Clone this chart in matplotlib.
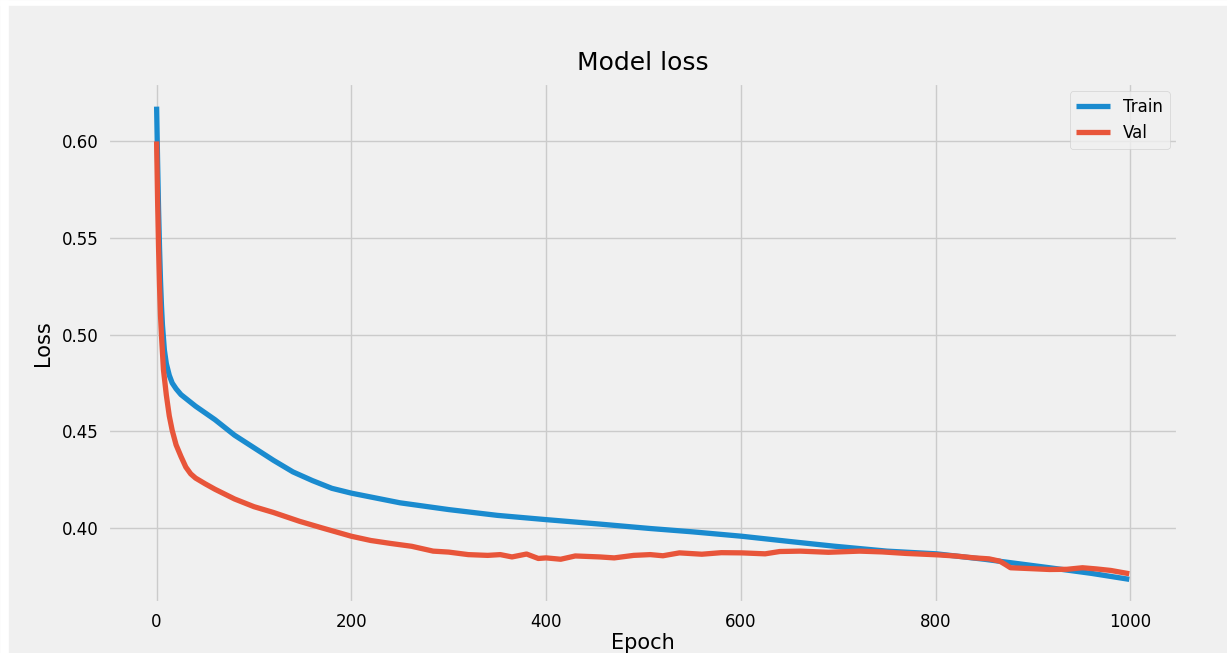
import matplotlib
matplotlib.use('Agg')
import matplotlib.pyplot as plt
from matplotlib.patches import Rectangle

plt.style.use('fivethirtyeight')

# values
epochs_train = [0, 1, 2, 3, 4, 5, 6, 8, 10, 13, 16, 20, 25, 30, 40, 50, 60, 70,
                80, 100, 120, 140, 160, 180, 200, 250, 300, 350, 400, 455, 507,
                550, 601, 650, 695, 750, 801, 850, 917, 960, 999]
train_loss = [0.618, 0.590, 0.565, 0.545, 0.528, 0.515, 0.505, 0.492, 0.485,
              0.479, 0.475, 0.472, 0.469, 0.467, 0.463, 0.4595, 0.456, 0.452,
              0.448, 0.4415, 0.435, 0.429, 0.4245, 0.4205, 0.418, 0.413, 0.4095,
              0.4065, 0.4043, 0.402, 0.3997, 0.398, 0.3957, 0.393, 0.3906,
              0.388, 0.3866, 0.3838, 0.3794, 0.3765, 0.3734]

epochs_val = [0, 1, 2, 3, 4, 5, 7, 10, 13, 16, 20, 25, 30, 35, 40, 50, 60, 80,
              100, 120, 147, 170, 200, 220, 240, 262, 284, 300, 320, 340, 353,
              365, 380, 392, 400, 415, 430, 455, 470, 490, 507, 520, 537, 560,
              580, 601, 625, 640, 661, 690, 722, 745, 770, 801, 820, 840, 855,
              866, 872, 877, 895, 917, 935, 951, 965, 980, 999]
val_loss = [0.600, 0.570, 0.545, 0.525, 0.510, 0.4996, 0.482, 0.4687, 0.458,
            0.4505, 0.443, 0.437, 0.4315, 0.428, 0.4258, 0.4228, 0.4200, 0.415,
            0.411, 0.408, 0.4034, 0.400, 0.3957, 0.3935, 0.392, 0.3905, 0.388,
            0.3875, 0.3862, 0.3858, 0.3862, 0.3850, 0.3865, 0.3842, 0.3845,
            0.3838, 0.3855, 0.3850, 0.3845, 0.3858, 0.3862, 0.3856, 0.3871,
            0.3864, 0.3872, 0.3871, 0.3866, 0.3878, 0.3880, 0.3874, 0.3880,
            0.3876, 0.3868, 0.3861, 0.3855, 0.3845, 0.3840, 0.3828, 0.3810,
            0.3794, 0.3790, 0.3785, 0.3786, 0.3794, 0.3788, 0.3780, 0.3763]

fig = plt.figure(figsize=(12.27, 6.53), dpi=100)
fig.patch.set_facecolor('#f0f0f0')
# white border left by the screenshot crop
fig.patches.append(Rectangle((0, 0.992), 1, 0.008, transform=fig.transFigure,
                             color='white', zorder=-1))
fig.patches.append(Rectangle((0, 0), 0.0065, 1, transform=fig.transFigure,
                             color='white', zorder=-1))

ax = fig.add_axes([0.088, 0.0766, 0.872, 0.7963])
ax.plot(epochs_train, train_loss, lw=3.8, color='#1a8bcf')
ax.plot(epochs_val, val_loss, lw=3.8, color='#e8553a')

ax.set_title('Model loss', fontsize=18, pad=9)
ax.set_ylabel('Loss', fontsize=15, labelpad=6)
ax.set_xlabel('Epoch', fontsize=15, labelpad=2)
ax.set_yticks([0.40, 0.45, 0.50, 0.55, 0.60])
ax.tick_params(axis='both', labelsize=12, pad=7)
ax.legend(['Train', 'Val'], loc='upper right', fontsize=12)

plt.savefig('out.png', dpi=100, facecolor=fig.get_facecolor())
